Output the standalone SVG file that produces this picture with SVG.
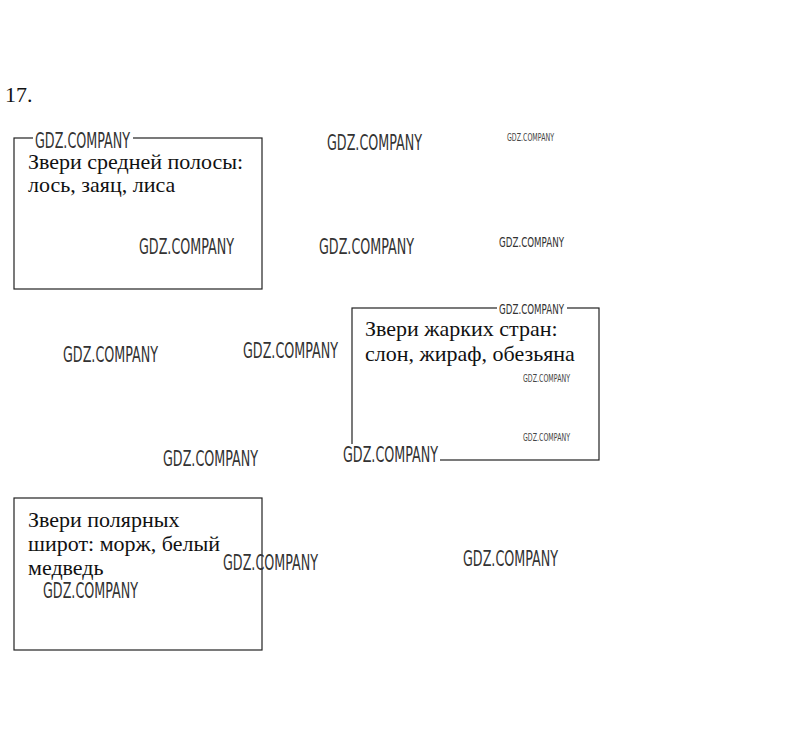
<svg xmlns="http://www.w3.org/2000/svg" width="811" height="751" viewBox="0 0 811 751">
<style>
.box{fill:#fff;stroke:#222;stroke-width:1.2}
.t{font-family:"Liberation Serif","Times New Roman",serif;font-size:22px;fill:#111}
.wm{font-family:"DejaVu Sans","Liberation Sans",sans-serif;font-stretch:condensed;fill:#333;font-size:22px}
.ws{font-family:"DejaVu Sans","Liberation Sans",sans-serif;fill:#444;font-size:11px}
.wb{fill:#fff}
</style>
<rect width="811" height="751" fill="#fff"/>
<text class="t" x="5" y="102">17.</text>
<g id="node1">
<rect class="box" x="14" y="138" width="248" height="151"/>
<text class="t" x="28" y="169">Звери средней полосы:</text>
<text class="t" x="28" y="192">лось, заяц, лиса</text>
</g>
<g id="node2">
<rect class="box" x="352" y="308" width="247" height="152"/>
<text class="t" x="365" y="336">Звери жарких стран:</text>
<text class="t" x="365" y="361">слон, жираф, обезьяна</text>
</g>
<g id="node3">
<rect class="box" x="14" y="498" width="248" height="152"/>
<text class="t" x="28" y="527">Звери полярных</text>
<text class="t" x="28" y="551">широт: морж, белый</text>
<text class="t" x="28" y="575">медведь</text>
</g>
<g id="connectors"></g>
<g id="watermarks">
<rect class="wb" x="33" y="132" width="100" height="8"/>
<rect class="wb" x="497" y="304" width="70" height="6"/>
<rect class="wb" x="341" y="444" width="99" height="19"/>
<text class="wm" x="35" y="148" textLength="95" lengthAdjust="spacingAndGlyphs">GDZ.COMPANY</text>
<text class="wm" x="327" y="150" textLength="95" lengthAdjust="spacingAndGlyphs">GDZ.COMPANY</text>
<text class="ws" x="507" y="141" textLength="47" lengthAdjust="spacingAndGlyphs">GDZ.COMPANY</text>
<text class="wm" x="139" y="254" textLength="95" lengthAdjust="spacingAndGlyphs">GDZ.COMPANY</text>
<text class="wm" x="319" y="254" textLength="95" lengthAdjust="spacingAndGlyphs">GDZ.COMPANY</text>
<text class="wm" x="499" y="247" style="font-size:14px" textLength="65" lengthAdjust="spacingAndGlyphs">GDZ.COMPANY</text>
<text class="wm" x="499" y="314" style="font-size:14px" textLength="65" lengthAdjust="spacingAndGlyphs">GDZ.COMPANY</text>
<text class="wm" x="63" y="362" textLength="95" lengthAdjust="spacingAndGlyphs">GDZ.COMPANY</text>
<text class="wm" x="243" y="358" textLength="95" lengthAdjust="spacingAndGlyphs">GDZ.COMPANY</text>
<text class="ws" x="523" y="382" textLength="47" lengthAdjust="spacingAndGlyphs">GDZ.COMPANY</text>
<text class="ws" x="523" y="441" textLength="47" lengthAdjust="spacingAndGlyphs">GDZ.COMPANY</text>
<text class="wm" x="163" y="466" textLength="95" lengthAdjust="spacingAndGlyphs">GDZ.COMPANY</text>
<text class="wm" x="343" y="462" textLength="95" lengthAdjust="spacingAndGlyphs">GDZ.COMPANY</text>
<text class="wm" x="223" y="570" textLength="95" lengthAdjust="spacingAndGlyphs">GDZ.COMPANY</text>
<text class="wm" x="463" y="566" textLength="95" lengthAdjust="spacingAndGlyphs">GDZ.COMPANY</text>
<text class="wm" x="43" y="598" textLength="95" lengthAdjust="spacingAndGlyphs">GDZ.COMPANY</text>
</g>
</svg>
